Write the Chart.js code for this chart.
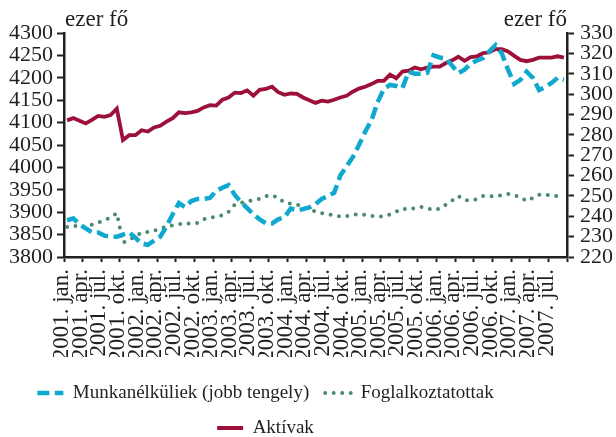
<!DOCTYPE html>
<html lang="hu">
<head>
<meta charset="utf-8">
<title>Aktívak, foglalkoztatottak, munkanélküliek</title>
<script src="https://cdn.jsdelivr.net/npm/chart.js@4.4.1/dist/chart.umd.min.js"></script>
<style>
  html, body { margin: 0; padding: 0; background: #fff; }
  .wrap { position: relative; width: 616px; height: 437px; }
</style>
</head>
<body>
<div class="wrap"><canvas id="chart"></canvas></div>
<script>
/* =========================
   Data (ezer fő, havi)
========================= */
const YEARS = [2001, 2002, 2003, 2004, 2005, 2006, 2007];
const MONTHS = ["jan.", "febr.", "márc.", "ápr.", "máj.", "jún.", "júl.", "aug.", "szept.", "okt.", "nov.", "dec."];
const N_MONTHS = 81; // 2001. jan. - 2007. szept.

const UNIT_LEFT = "ezer fő";
const UNIT_RIGHT = "ezer fő";

const LABEL_UNEMPLOYED = "Munkanélküliek (jobb tengely)";
const LABEL_EMPLOYED = "Foglalkoztatottak";
const LABEL_ACTIVE = "Aktívak";

// jobb tengely
const unemployed = [
  238, 239, 236, 234, 232, 232, 230.5, 230, 230, 231,
  232, 229.5, 226.5, 226, 228, 230, 235, 241, 246.5, 244.5,
  247.5, 248.5, 248.5, 249, 252.5, 254, 255.3, 250.5, 247, 244,
  241, 238.5, 236.5, 236.5, 238.5, 239.5, 243.8, 243, 243.5, 244.3,
  246, 248.5, 250, 251.5, 260, 264.5, 269, 275, 281.5, 287,
  296, 302.5, 304.5, 304, 303, 311, 310, 310, 310.5, 319,
  318, 317.5, 314, 310.3, 312, 315, 316.5, 317.7, 321, 324,
  320, 312, 305, 307, 311, 308, 302, 303.5, 305.5, 308, 307
];

// bal tengely
const employed = [
  3867, 3870, 3868, 3866, 3872, 3877, 3882, 3888, 3898, 3832,
  3838, 3846, 3855, 3856, 3858, 3864, 3867, 3871, 3873, 3875,
  3875, 3876, 3884, 3888, 3890, 3893, 3901, 3917, 3921, 3924,
  3927, 3930, 3936, 3938, 3932, 3921, 3919, 3917, 3913, 3906,
  3902, 3898, 3895, 3893, 3890, 3891, 3894, 3896, 3894, 3892,
  3890, 3891, 3895, 3901, 3908, 3906, 3909, 3912, 3909, 3905,
  3908, 3917, 3926, 3936, 3927, 3926, 3929, 3936, 3935, 3936,
  3938, 3941, 3938, 3933, 3925, 3932, 3939, 3939, 3937, 3936, 3936
];

// bal tengely
const active = [
  4105, 4110, 4104, 4098, 4106, 4115, 4113, 4117, 4131, 4061,
  4072, 4072, 4083, 4080, 4089, 4093, 4102, 4110, 4123, 4121,
  4123, 4126, 4134, 4139, 4138, 4151, 4156, 4167, 4166, 4172,
  4160, 4173, 4175, 4180, 4168, 4162, 4165, 4164, 4156, 4150,
  4144, 4149, 4147, 4151, 4156, 4160, 4169, 4176, 4180, 4186,
  4193, 4193, 4207, 4199, 4214, 4216, 4223, 4219, 4223, 4225,
  4225, 4233, 4239, 4247, 4238, 4246, 4248, 4255, 4257, 4264,
  4264, 4259, 4249, 4240, 4237, 4240, 4245, 4245, 4245, 4248, 4245
];

const LEFT_MIN = 3800, LEFT_MAX = 4300, LEFT_STEP = 50;
const RIGHT_MIN = 220, RIGHT_MAX = 330, RIGHT_STEP = 10;

const monthLabels = [];
YEARS.forEach(y => MONTHS.forEach(m => monthLabels.push(`${y}. ${m}`)));
monthLabels.length = N_MONTHS;

/* =========================
   Styles
========================= */
const AXIS = "#231f20";
const FONT = '"Liberation Serif", "Times New Roman", serif';
const C_UNEMP = "#0fa9cf";
const C_EMP = "#4a8b6c";
const C_ACT = "#9c1039";

// legenda eltolása (a sorok közepe ~260px-nél)
const LEG_DX = -50;
const LEG_DY = 10.5;

const unitAndLegend = {
  id: "unitAndLegend",
  afterLayout(chart) {
    const lg = chart.legend;
    if (!lg) return;
    lg.left += LEG_DX; lg.right += LEG_DX;
    lg.top += LEG_DY; lg.bottom += LEG_DY;
  },
  afterDraw(chart) {
    const { ctx, chartArea } = chart;
    ctx.save();
    ctx.font = `23px ${FONT}`;
    ctx.fillStyle = AXIS;
    ctx.textBaseline = "alphabetic";
    ctx.textAlign = "left";
    ctx.fillText(UNIT_LEFT, chartArea.left + 1, chartArea.top - 7);
    ctx.textAlign = "right";
    ctx.fillText(UNIT_RIGHT, chartArea.right, chartArea.top - 7);
    ctx.restore();
  }
};

const axisBorder = { display: true, color: AXIS, width: 2.5 };
const tickFont = { family: FONT, size: 22 };
const plainNumber = (v) => String(v);

new Chart(document.getElementById("chart"), {
  type: "line",
  data: {
    labels: monthLabels,
    datasets: [
      {
        label: LABEL_UNEMPLOYED, data: unemployed, yAxisID: "y1",
        borderColor: C_UNEMP, backgroundColor: C_UNEMP,
        borderWidth: 4.5, borderDash: [12, 5.5], pointRadius: 0, tension: 0
      },
      {
        label: LABEL_EMPLOYED, data: employed, yAxisID: "y",
        borderColor: C_EMP, backgroundColor: C_EMP,
        borderWidth: 4, borderDash: [0, 8.5], borderCapStyle: "round",
        pointRadius: 0, tension: 0
      },
      {
        label: LABEL_ACTIVE, data: active, yAxisID: "y",
        borderColor: C_ACT, backgroundColor: C_ACT,
        borderWidth: 3.8, pointRadius: 0, tension: 0
      }
    ]
  },
  options: {
    responsive: true,
    maintainAspectRatio: false,
    animation: false,
    layout: { padding: { top: 33, left: 0, right: 0, bottom: 0 } },
    plugins: {
      tooltip: { enabled: false },
      title: { display: false },
      legend: {
        position: "bottom",
        fullSize: false,
        labels: {
          usePointStyle: true,
          pointStyleWidth: 26,
          padding: 16,
          color: AXIS,
          font: { family: FONT, size: 19 },
          generateLabels: (chart) =>
            Chart.defaults.plugins.legend.labels.generateLabels(chart).map(item => {
              const ds = chart.data.datasets[item.datasetIndex];
              return {
                ...item,
                pointStyle: "line",
                strokeStyle: ds.borderColor,
                lineWidth: ds.borderWidth,
                lineDash: ds.borderDash || [],
                lineCap: ds.borderCapStyle || "butt"
              };
            })
        }
      }
    },
    scales: {
      x: {
        type: "category",
        offset: true,
        grid: {
          offset: true,
          drawOnChartArea: false,
          drawTicks: true,
          tickLength: 5,
          tickWidth: 2,
          // csak negyedévente van osztásjel
          tickColor: (c) => (c.index === undefined || c.index % 3 === 0 ? AXIS : "rgba(0,0,0,0)")
        },
        border: axisBorder,
        ticks: {
          autoSkip: false,
          minRotation: 90,
          maxRotation: 90,
          padding: 7,
          labelOffset: -5,
          color: AXIS,
          font: { family: FONT, size: 23 },
          callback: function (value, index) {
            return index % 3 === 0 ? this.getLabelForValue(value) : "";
          }
        },
        afterFit: (s) => { s.height = 100; }
      },
      y: {
        position: "left",
        min: LEFT_MIN, max: LEFT_MAX,
        grid: { drawOnChartArea: false, tickLength: 7, tickWidth: 2, tickColor: AXIS },
        border: axisBorder,
        ticks: { stepSize: LEFT_STEP, autoSkip: false, padding: 4, color: AXIS, font: tickFont, callback: plainNumber },
        afterFit: (s) => { s.width = 64; }
      },
      y1: {
        position: "right",
        min: RIGHT_MIN, max: RIGHT_MAX,
        grid: { drawOnChartArea: false, tickLength: 7, tickWidth: 2, tickColor: AXIS },
        border: axisBorder,
        ticks: { stepSize: RIGHT_STEP, autoSkip: false, padding: 6, color: AXIS, font: tickFont, callback: plainNumber },
        afterFit: (s) => { s.width = 49; }
      }
    }
  },
  plugins: [unitAndLegend]
});
</script>
</body>
</html>
